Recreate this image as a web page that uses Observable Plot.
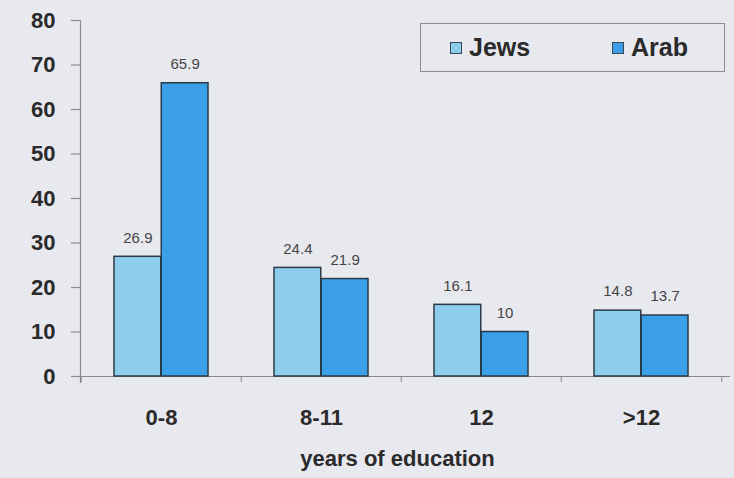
<!DOCTYPE html>
<html>
<head>
<meta charset="utf-8">
<script src="https://cdn.jsdelivr.net/npm/d3@7"></script>
<script src="https://cdn.jsdelivr.net/npm/@observablehq/plot@0.6"></script>
<style>
  html, body { margin: 0; padding: 0; background: #e8e8ef; }
  #wrap { position: relative; width: 734px; height: 478px; font-family: "Liberation Sans", Arial, sans-serif; }
  #legend { position: absolute; left: 420px; top: 23px; width: 305px; height: 49px; border: 1px solid #8c8c92; box-sizing: border-box; }
  .item { position: absolute; top: 0; height: 47px; display: flex; align-items: center; font-weight: bold; font-size: 25px; color: #2a2a2a; }
  .sw { width: 10px; height: 10px; border: 1.5px solid #3a4656; margin-right: 7px; }
</style>
</head>
<body>
<div id="wrap">
  <div id="chart"></div>
  <div id="legend"></div>
</div>
<script>
const categories = ["0-8", "8-11", "12", ">12"];
const seriesNames = ["Jews", "Arab"];
const jewsValues = [26.9, 24.4, 16.1, 14.8];
const arabValues = [65.9, 21.9, 10, 13.7];
const yTicks = [0, 10, 20, 30, 40, 50, 60, 70, 80];
const xTitle = "years of education";
const colors = ["#8fcdec", "#3a9fe6"];

const rows = categories.flatMap((c, i) => [
  {cat: c, series: "Jews", value: jewsValues[i]},
  {cat: c, series: "Arab", value: arabValues[i]}
]);

const W = 734, H = 478, ML = 80, MR = 12, MT = 20, MB = 102;
const bw = (W - ML - MR) / categories.length;
const outer = 33;
const half = bw / 2;
const labelShift = (outer + half) / 2 - half;
const font = "'Liberation Sans', Arial, sans-serif";

const chart = Plot.plot({
  width: W, height: H,
  marginLeft: ML, marginRight: MR, marginTop: MT, marginBottom: MB,
  style: {background: "transparent", fontFamily: font, overflow: "visible"},
  x: {domain: categories, padding: 0, axis: null},
  y: {domain: [0, 80], axis: null},
  color: {domain: seriesNames, range: colors},
  marks: [
    Plot.ruleY([0], {stroke: "#8a8a90", strokeWidth: 1.2, insetRight: -8}),
    Plot.frame({anchor: "left", stroke: "#8a8a90", strokeWidth: 1.2, insetBottom: -6}),
    Plot.axisY(yTicks, {tickSize: 9, text: null, stroke: "#8a8a90", strokeWidth: 1.2, label: null}),
    Plot.axisY(yTicks, {tickSize: 0, tickPadding: 25, fontSize: 22, fontWeight: "bold", fill: "#2a2a2a", label: null}),
    Plot.axisX({text: null, tickSize: 6, dx: -half, stroke: "#8a8a90", label: null}),
    Plot.axisX([categories[categories.length - 1]], {text: null, tickSize: 6, dx: half, stroke: "#8a8a90", label: null}),
    Plot.axisX({tickSize: 0, tickPadding: 33, fontSize: 22, fontWeight: "bold", fill: "#2a2a2a", label: null}),
    Plot.barY(rows.filter(d => d.series === "Jews"), {
      x: "cat", y: "value", fill: "series", stroke: "#2b3a48", strokeWidth: 1.5,
      insetLeft: outer, insetRight: half
    }),
    Plot.barY(rows.filter(d => d.series === "Arab"), {
      x: "cat", y: "value", fill: "series", stroke: "#2b3a48", strokeWidth: 1.5,
      insetLeft: half, insetRight: outer
    }),
    Plot.text(rows.filter(d => d.series === "Jews"), {
      x: "cat", y: "value", text: d => String(d.value), dx: labelShift, dy: -19,
      fontSize: 15, fill: "#444"
    }),
    Plot.text(rows.filter(d => d.series === "Arab"), {
      x: "cat", y: "value", text: d => String(d.value), dx: -labelShift, dy: -19,
      fontSize: 15, fill: "#444"
    }),
    Plot.text([xTitle], {frameAnchor: "bottom", dy: 89, dx: -4, fontSize: 22, fontWeight: "bold", fill: "#2a2a2a"})
  ]
});
document.getElementById("chart").appendChild(chart);

const legend = document.getElementById("legend");
const lefts = [29, 191];
seriesNames.forEach((name, i) => {
  const item = document.createElement("div");
  item.className = "item";
  item.style.left = lefts[i] + "px";
  const sw = document.createElement("div");
  sw.className = "sw";
  sw.style.background = colors[i];
  const t = document.createElement("span");
  t.textContent = name;
  item.appendChild(sw);
  item.appendChild(t);
  legend.appendChild(item);
});
</script>
</body>
</html>
